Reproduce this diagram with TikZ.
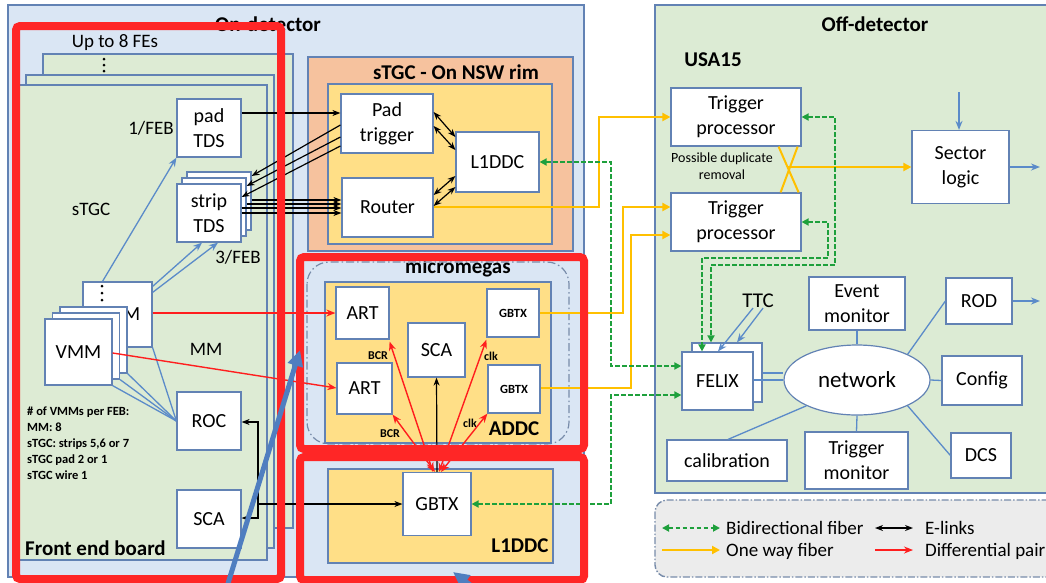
\documentclass[tikz,border=0pt]{standalone}
\usepackage{fontspec}
\setmainfont{Carlito}
\usetikzlibrary{arrows.meta,shapes.geometric}
\definecolor{bcol}{RGB}{98,130,180}
\definecolor{ondetc}{RGB}{218,230,244}
\definecolor{feg}{RGB}{221,235,212}
\definecolor{offg}{RGB}{220,235,212}
\definecolor{orng}{RGB}{246,194,158}
\definecolor{yel}{RGB}{255,223,135}
\definecolor{redann}{RGB}{255,38,38}
\definecolor{redl}{RGB}{255,30,30}
\definecolor{ylw}{RGB}{255,192,0}
\definecolor{grn}{RGB}{30,160,60}
\definecolor{bluel}{RGB}{91,139,201}
\definecolor{bigbl}{RGB}{79,126,192}
\definecolor{legc}{RGB}{236,236,236}
\definecolor{legb}{RGB}{120,140,170}
\begin{document}
\begin{tikzpicture}[x=1pt,y=-1pt,
  box/.style={draw=bcol,fill=white,line width=1.2pt,inner sep=0pt,align=center,font=\fontsize{20}{25}\selectfont},
  sbox/.style={box,font=\bfseries\fontsize{12.5}{14}\selectfont},
  ttl/.style={font=\bfseries\fontsize{21}{24}\selectfont,inner sep=0pt},
  lbl/.style={font=\fontsize{19}{22}\selectfont,inner sep=0pt},
  tiny/.style={font=\bfseries\fontsize{12}{14}\selectfont,inner sep=0pt},
  region/.style={draw=bcol,line width=1.2pt},
  elink/.style={line width=1.2pt,black,-{Stealth[length=8pt,width=6pt]}},
  elinkb/.style={line width=1.2pt,black,{Stealth[length=8pt,width=6pt]}-{Stealth[length=8pt,width=6pt]}},
  diff/.style={line width=1.4pt,redl,-{Stealth[length=9pt,width=7pt]}},
  diffb/.style={line width=1.4pt,redl,{Stealth[length=9pt,width=7pt]}-{Stealth[length=9pt,width=7pt]}},
  oneway/.style={line width=2pt,ylw,-{Triangle[length=8pt,width=8pt]}},
  bidir/.style={line width=1.8pt,grn,dash pattern=on 4.5pt off 2.5pt,{Triangle[length=7pt,width=7pt]}-{Triangle[length=7pt,width=7pt]}},
  bl/.style={line width=1.3pt,bluel},
  bla/.style={bl,-{Stealth[length=9pt,width=7pt]}},
  ann/.style={draw=redann,line width=8pt,rounded corners=4pt},
  bigarrow/.style={line width=5pt,bigbl,-{Triangle[length=16pt,width=15pt]}}
]
\useasboundingbox (0,0) rectangle (1046,582);
\clip (0,0) rectangle (1046,582);
\fill[white] (0,0) rectangle (1046,582);

% ---------- regions ----------
\filldraw[region,fill=ondetc] (8,5) rectangle (584,577);
\node[ttl] (ondett) at (268,24) {On-detector};
\filldraw[region,fill=offg] (655,5) rectangle (1050,493);
\node[ttl] (offdett) at (875,24) {Off-detector};
\node[ttl] (usa) at (713,60) {USA15};

% front end boards
\node[lbl] (upto) at (115,43) {Up to 8 FEs};
\filldraw[region,fill=feg] (43,54) rectangle (293,528);
\foreach \yy in {59,65,71} \fill (104,\yy) circle (1.5);
\filldraw[region,fill=feg] (26,75) rectangle (274,548);
\filldraw[region,fill=feg] (19,85) rectangle (267,560);

% sTGC rim
\filldraw[region,fill=orng] (308,57) rectangle (573,251);
\node[ttl] (rimt) at (456,72) {sTGC - On NSW rim};
\filldraw[region,fill=yel] (328,84) rectangle (552,244);

% micromegas
\draw[draw=legb,line width=1.2pt,dash pattern=on 8pt off 3pt on 1.5pt off 3pt,rounded corners=22pt] (307,262) rectangle (569,444);
\node[ttl] (mmt) at (458,268) {micromegas};
\filldraw[region,fill=yel] (325,282) rectangle (551,443);
\node[ttl] (addct) at (514,429) {ADDC};
\filldraw[region,fill=yel] (328,469) rectangle (553,563);
\node[ttl] (l1t) at (520,546) {L1DDC};

% legend
\draw[draw=legb,fill=legc,line width=1.4pt,dash pattern=on 7pt off 2pt on 1.5pt off 2pt,rounded corners=12pt] (655,500) rectangle (1070,577);

% ---------- front end board contents ----------
\node[box,minimum width=64pt,minimum height=58pt] (padtds) at (209,128) {pad\\TDS};
\node[lbl] (feb1) at (151,128) {1/FEB};
\node[box,minimum width=64pt,minimum height=58pt] (stripb2) at (219,201) {};
\node[box,minimum width=64pt,minimum height=58pt] (stripb1) at (214,207) {};
\node[box,minimum width=64pt,minimum height=58pt] (stripf) at (209,213) {strip\\TDS};
\node[lbl] (stgcl) at (91,209) {sTGC};
\node[lbl] (feb3) at (238,257) {3/FEB};
\node[box,minimum width=69pt,minimum height=65pt] (vmmtop) at (117.5,314.5) {VMM};
\foreach \yy in {286,293,300} \fill (102,\yy) circle (1.5);
\node[box,minimum width=67pt,minimum height=66pt] (vmmb2) at (93.5,340) {};
\node[box,minimum width=67pt,minimum height=66pt] (vmmb1) at (86,346) {};
\node[box,minimum width=67pt,minimum height=66pt] (vmmf) at (78.5,352) {VMM};
\node[lbl] (mml) at (206,349) {MM};
\node[box,minimum width=64pt,minimum height=58pt] (roc) at (209,421) {ROC};
\node[box,minimum width=64pt,minimum height=58pt] (scafe) at (209,519) {SCA};
\node[anchor=north west,align=left,inner sep=0pt,font=\bfseries\fontsize{12.5}{16}\selectfont] (note) at (27,407)
  {\# of VMMs per FEB:\\MM: 8\\sTGC: strips 5,6 or 7\\sTGC pad 2 or 1\\sTGC wire 1};
\node[ttl,anchor=west] (febt) at (25,548) {Front end board};

% ---------- rim contents ----------
\node[box,minimum width=92pt,minimum height=59pt] (padtrig) at (387,123.5) {Pad\\trigger};
\node[box,minimum width=91pt,minimum height=59pt] (router) at (387.5,207.5) {Router};
\node[box,minimum width=83pt,minimum height=60pt] (l1s) at (497.5,162) {L1DDC};

% ---------- micromegas contents ----------
\node[box,minimum width=53pt,minimum height=52pt] (art1) at (362.5,313) {ART};
\node[box,minimum width=55pt,minimum height=51pt] (art2) at (364.5,388.5) {ART};
\node[box,minimum width=57pt,minimum height=54pt] (scam) at (436.5,350) {SCA};
\node[sbox,minimum width=52pt,minimum height=48pt] (gbtx1) at (513,313) {GBTX};
\node[sbox,minimum width=52pt,minimum height=48pt] (gbtx2) at (514,389) {GBTX};
\node[box,minimum width=68pt,minimum height=63pt] (gbtxl) at (437,504) {GBTX};
\node[tiny] (bcr1) at (378,356) {BCR};
\node[tiny] (bcr2) at (390,434) {BCR};
\node[tiny] (clk1) at (491,356) {clk};
\node[tiny] (clk2) at (470,423) {clk};

% ---------- off-detector contents ----------
\node[box,minimum width=130pt,minimum height=58pt] (tp1) at (736,117) {Trigger\\processor};
\node[box,minimum width=130pt,minimum height=58pt] (tp2) at (736,222) {Trigger\\processor};
\node[align=center,inner sep=0pt,font=\fontsize{14}{17}\selectfont] (dup) at (722,166) {Possible duplicate\\removal};
\node[box,minimum width=97pt,minimum height=73pt] (sector) at (960.5,167) {Sector\\logic};
\node[box,minimum width=70pt,minimum height=59pt] (felixb) at (727,372.5) {};
\node[box,minimum width=71pt,minimum height=58pt] (felixf) at (717.5,381) {FELIX};
\node[font=\fontsize{21}{24}\selectfont,inner sep=0pt] (ttc) at (758,301) {TTC};
\node[draw=bcol,fill=white,line width=1.2pt,ellipse,inner sep=0pt,minimum width=146pt,minimum height=70pt,font=\fontsize{23}{26}\selectfont] (net) at (857,380) {network};
\node[box,minimum width=96pt,minimum height=53pt] (evmon) at (857,303.5) {Event\\monitor};
\node[box,minimum width=103pt,minimum height=57pt] (trigmon) at (856.5,460.5) {Trigger\\monitor};
\node[box,minimum width=120pt,minimum height=41pt] (calib) at (727,460.5) {calibration};
\node[box,minimum width=66pt,minimum height=46pt] (rod) at (979,301) {ROD};
\node[box,minimum width=80pt,minimum height=49pt] (config) at (982,380.5) {Config};
\node[box,minimum width=60pt,minimum height=45pt] (dcs) at (981,455.5) {DCS};

% ---------- connectors: blue ----------
\draw[bla] ([xshift=-15pt]vmmtop.north) -- (padtds.south west);
\draw[bla] ([yshift=-5pt]vmmtop.north east) -- ([xshift=-7pt]stripf.south);
\draw[bla] ([yshift=-11pt]vmmtop.north east) -- ([xshift=9pt]stripf.south);
\foreach \n in {vmmtop,vmmb2,vmmb1,vmmf} \draw[bl] (\n.south east) -- (roc.west);
\draw[bla] ([xshift=-5pt]ttc.south) -- (felixf.north -| 718,0);
\draw[bla] ([xshift=5pt]ttc.south) -- (felixb.north -| 737,0);
\draw[bl] (felixb.east |- 0,373) -- (net.west |- 0,373);
\draw[bl] (felixf.east |- 0,380) -- (net.west |- 0,380);
\draw[bl] (evmon.south) -- (net.north);
\draw[bl] (trigmon.north) -- (net.south);
\draw[bl] ([xshift=1pt]calib.north) -- (net.207);
\draw[bl] (rod.west) -- (net.27);
\draw[bl] (net.east) -- (config.west);
\draw[bl] (net.333) -- (dcs.west);
\coordinate (rodout) at (1040,301);
\coordinate (secout) at (1040,167);
\coordinate (secin) at (959,92);
\draw[bla,line width=2.4pt] (rod.east) -- (rodout);
\draw[bla,line width=2.4pt] (sector.east) -- (secout);
\draw[bla,line width=2.4pt] (secin) -- (sector.north -| secin);

% ---------- connectors: black e-links ----------
\draw[elink] (padtds.east |- 0,113) -- (padtrig.west |- 0,113);
\draw[elink] (padtrig.west |- 0,125) -- (stripb2.east |- 0,176);
\draw[elink] (padtrig.west |- 0,137) -- (stripb1.east |- 0,186);
\draw[elink] (padtrig.west |- 0,146) -- (stripf.east |- 0,197);
\draw[elink] (stripb2.east |- 0,200) -- (router.west |- 0,200);
\draw[elink] (stripb1.east |- 0,204) -- (router.west |- 0,204);
\draw[elink] (stripf.east |- 0,208) -- (router.west |- 0,208);
\draw[elink] (stripf.east |- 0,213) -- (router.west |- 0,213);
\draw[elinkb] (padtrig.east |- 0,112) -- (l1s.west |- 0,137);
\draw[elinkb] (padtrig.east |- 0,126) -- (l1s.west |- 0,150);
\draw[elinkb] (router.east |- 0,195) -- (l1s.west |- 0,176);
\draw[elinkb] (router.east |- 0,206) -- (l1s.west |- 0,187);
\coordinate (jn) at (258,504);
\draw[elink] (jn) -- (gbtxl.west |- jn);
\draw[elink] (jn) |- (roc.east |- 0,422);
\draw[elink] (jn) |- (scafe.east |- 0,518);
\draw[elink] (gbtxl.north) -- (scam.south);

% ---------- connectors: red differential ----------
\draw[diff] (vmmtop.east |- 0,313) -- (art1.west |- 0,313);
\draw[diff] (vmmf.east |- 0,353) -- (art2.west |- 0,388);
\draw[diffb] ([xshift=-4pt]gbtxl.north) -- ([yshift=-2pt]art1.south east);
\draw[diffb] ([xshift=-2pt]gbtxl.north) -- (art2.south east);
\draw[diffb] ([xshift=2pt]gbtxl.north) -- ([yshift=-2pt]gbtx1.south west);
\draw[diffb] ([xshift=4pt]gbtxl.north) -- (gbtx2.south west);

% ---------- connectors: yellow one-way ----------
\draw[oneway] (router.east |- 0,207) -| (599,117) -- (tp1.west |- 0,117);
\draw[oneway] (gbtx1.east) -| (623,207) -- (tp2.west |- 0,207);
\draw[oneway] (gbtx2.east |- 0,388) -| (631,235) -- (tp2.west |- 0,235);
\coordinate (xc) at (788,167);
\draw[line width=2pt,ylw] ([xshift=-23pt]tp1.south east) -- ([xshift=-3pt]tp2.north east);
\draw[line width=2pt,ylw] ([xshift=-4pt]tp1.south east) -- ([xshift=-21pt]tp2.north east);
\draw[oneway] (xc) -- (sector.west |- xc);

% ---------- connectors: green bidirectional ----------
\draw[bidir] (l1s.east) -| (611,366) -- (felixf.west |- 0,366);
\draw[bidir] (gbtxl.east) -| (611,395) -- (felixf.west |- 0,395);
\draw[bidir] (tp1.east) -- (835,117) -- (835,265) -- (711,265) -- (felixb.north -| 711,0);
\draw[bidir] (tp2.east) -- (828,222) -- (828,258) -- (702,258) -- (felixf.north -| 702,0);

% ---------- legend ----------
\coordinate (lg1a) at (662,528); \coordinate (lg1b) at (720,528);
\coordinate (lg2a) at (662,550); \coordinate (lg2b) at (720,550);
\coordinate (lg3a) at (875,528); \coordinate (lg3b) at (913,528);
\coordinate (lg4a) at (875,550); \coordinate (lg4b) at (913,550);
\draw[bidir] (lg1a) -- (lg1b);
\draw[oneway] (lg2a) -- (lg2b);
\draw[elinkb,line width=1.6pt] (lg3a) -- (lg3b);
\draw[diff,line width=1.8pt] (lg4a) -- (lg4b);
\node[lbl,anchor=west] (lt1) at (726,528) {Bidirectional fiber};
\node[lbl,anchor=west] (lt2) at (726,551) {One way fiber};
\node[lbl,anchor=west] (lt3) at (925,528) {E-links};
\node[lbl,anchor=west] (lt4) at (925,551) {Differential pair};

% ---------- red annotation frames ----------
\draw[ann] (16,26) rectangle (281,579);
\draw[ann] (300,257) rectangle (584,449);
\draw[ann] (300,457) rectangle (584,580);

% ---------- big blue annotation arrows ----------
\coordinate (ba1s) at (226,590);
\coordinate (ba1e) at (300,350);
\coordinate (ba2s) at (530,630);
\coordinate (ba2e) at (453,572);
\draw[bigarrow] (ba1s) -- (ba1e);
\draw[bigarrow] (ba2s) -- (ba2e);
\end{tikzpicture}
\end{document}
